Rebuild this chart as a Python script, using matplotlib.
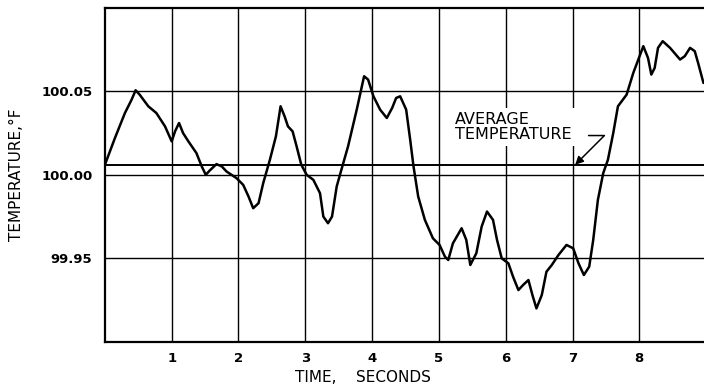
import matplotlib
matplotlib.use("Agg")
import matplotlib.pyplot as plt
import numpy as np

# temperature trace (time in s, temperature in F)
t = [0.0, 0.15, 0.30, 0.40, 0.46, 0.52, 0.65, 0.77, 0.90, 1.0,
     1.05, 1.11, 1.17, 1.25, 1.37, 1.45, 1.51, 1.57, 1.67, 1.75,
     1.82, 1.97, 2.07, 2.15, 2.22, 2.30, 2.37, 2.47, 2.56, 2.63,
     2.69, 2.74, 2.81, 2.87, 2.94, 3.02, 3.12, 3.22, 3.27, 3.34,
     3.40, 3.47, 3.54, 3.64, 3.77, 3.88, 3.94, 4.02, 4.12, 4.22,
     4.30, 4.36, 4.42, 4.51, 4.57, 4.62, 4.69, 4.79, 4.91, 5.01,
     5.09, 5.14, 5.21, 5.34, 5.41, 5.47, 5.56, 5.64, 5.72, 5.81,
     5.87, 5.94, 6.04, 6.11, 6.19, 6.26, 6.34, 6.40, 6.46, 6.54,
     6.61, 6.69, 6.79, 6.91, 7.01, 7.09, 7.17, 7.25, 7.31, 7.38,
     7.46, 7.53, 7.61, 7.68, 7.81, 7.91, 8.06, 8.13, 8.18, 8.23,
     8.28, 8.35, 8.46, 8.61, 8.68, 8.76, 8.83, 8.88, 8.96]
temp = [100.006, 100.022, 100.037, 100.045, 100.0506, 100.048, 100.041, 100.037, 100.029, 100.020,
        100.026, 100.031, 100.025, 100.020, 100.013, 100.005, 100.000, 100.0026, 100.0064, 100.005,
        100.002, 99.998, 99.994, 99.987, 99.980, 99.983, 99.995, 100.009, 100.023, 100.041,
        100.035, 100.029, 100.026, 100.017, 100.006, 100.000, 99.997, 99.989, 99.975, 99.971,
        99.975, 99.993, 100.003, 100.017, 100.039, 100.059, 100.057, 100.047, 100.039, 100.034,
        100.040, 100.046, 100.047, 100.039, 100.021, 100.005, 99.987, 99.973, 99.962, 99.958,
        99.951, 99.949, 99.959, 99.968, 99.961, 99.946, 99.953, 99.969, 99.978, 99.973,
        99.961, 99.950, 99.947, 99.939, 99.931, 99.934, 99.937, 99.928, 99.920, 99.928,
        99.942, 99.946, 99.952, 99.958, 99.956, 99.947, 99.940, 99.945, 99.961, 99.985,
        100.001, 100.009, 100.025, 100.041, 100.048, 100.061, 100.077, 100.070, 100.060, 100.064,
        100.076, 100.080, 100.076, 100.069, 100.071, 100.076, 100.074, 100.067, 100.055]

avg_temp = 100.006
xticks = [1, 2, 3, 4, 5, 6, 7, 8]
yticks = [99.95, 100.00, 100.05]
ytick_labels = ["99.95", "100.00", "100.05"]

fig = plt.figure(figsize=(7.04, 3.88), dpi=100)
ax = fig.add_axes([0.149, 0.119, 0.854, 0.861])

ax.set_xlim(0, 9)
ax.set_ylim(99.90, 100.10)

ax.set_xticks(xticks)
ax.set_xticklabels([str(v) for v in xticks], fontsize=9.5, fontweight="bold")
ax.set_yticks(yticks)
ax.set_yticklabels(ytick_labels, fontsize=9.5, fontweight="bold")
ax.tick_params(length=0)
ax.tick_params(axis="x", pad=7)
ax.tick_params(axis="y", pad=9)
ax.grid(True, color="black", linewidth=1.0)
ax.set_axisbelow(True)

for s in ax.spines.values():
    s.set_linewidth(1.6)

ax.axhline(avg_temp, color="black", linewidth=1.4)
ax.plot(t, temp, color="black", linewidth=1.8, solid_joinstyle="round",
        solid_capstyle="round")

# label sits on a white patch that breaks the grid lines behind it
ax.text(5.24, 100.0285, "AVERAGE\nTEMPERATURE", fontsize=11.5, ha="left", va="center",
        linespacing=1.0,
        bbox=dict(facecolor="white", edgecolor="none", pad=3))
ax.annotate("", xy=(7.04, avg_temp), xytext=(7.24, 100.0235),
            arrowprops=dict(arrowstyle="-|>", color="black", lw=1.1,
                            connectionstyle="angle,angleA=0,angleB=45,rad=0",
                            shrinkA=0, shrinkB=0, mutation_scale=12))

ax.set_ylabel("TEMPERATURE,°F", fontsize=11, labelpad=12)
ax.set_xlabel("TIME,    SECONDS", fontsize=11, labelpad=4, x=0.43)

fig.savefig("out.png", dpi=100)
